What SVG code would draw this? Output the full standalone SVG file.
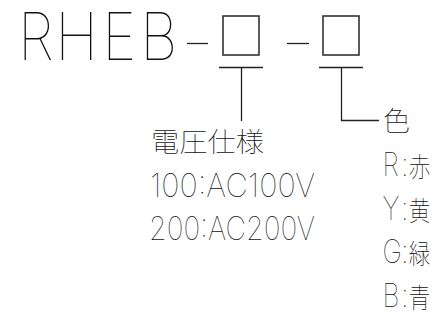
<svg xmlns="http://www.w3.org/2000/svg" width="443" height="321" viewBox="0 0 443 321">
<style>
.t{font-family:Inter,"Noto Sans CJK JP",sans-serif;font-weight:100;fill:#111}
.big{font-size:66px}
.m{font-size:33px}
.j{font-size:27px}
.ln{stroke:#222;stroke-width:1.3;fill:none}
.bx{stroke:#333;stroke-width:1.6;fill:none}
</style>
<rect width="443" height="321" fill="#fff"/>
<g id="model">
<text class="t big" transform="translate(0,60) scale(0.88,1)" x="20.5 62.9 116.3 159.5" y="0">RHEB</text>
</g>
<g id="box1">
<rect class="bx" x="223" y="16" width="36" height="39"/>
</g>
<g id="box2">
<rect class="bx" x="323" y="16" width="36" height="39"/>
</g>
<g id="connectors">
<line class="ln" x1="187" y1="43.5" x2="208" y2="43.5"/>
<line class="ln" x1="287" y1="43.5" x2="309" y2="43.5"/>
<line class="ln" x1="219" y1="67.5" x2="263" y2="67.5"/>
<line class="ln" x1="241.5" y1="67.5" x2="241.5" y2="121"/>
<line class="ln" x1="319" y1="67.5" x2="363" y2="67.5"/>
<polyline class="ln" points="341.5,67.5 341.5,120.5 379,120.5"/>
</g>
<g id="voltage">
<text class="t j" x="151" y="152" textLength="113" lengthAdjust="spacingAndGlyphs">電圧仕様</text>
<text class="t m" x="150" y="197" textLength="165" lengthAdjust="spacingAndGlyphs">100:AC100V</text>
<text class="t m" x="149" y="240" textLength="166" lengthAdjust="spacingAndGlyphs">200:AC200V</text>
</g>
<g id="color">
<text class="t j" x="383" y="131">色</text>
<text class="t m" transform="translate(384,176) scale(0.8,1)"><tspan x="-2" y="0">R</tspan><tspan x="21.5" y="0">:</tspan><tspan class="j" x="31" y="1">赤</tspan></text>
<text class="t m" transform="translate(384,220) scale(0.8,1)"><tspan x="-2" y="0">Y</tspan><tspan x="21.5" y="0">:</tspan><tspan class="j" x="31" y="1">黄</tspan></text>
<text class="t m" transform="translate(384,263) scale(0.8,1)"><tspan x="-2" y="0">G</tspan><tspan x="21.5" y="0">:</tspan><tspan class="j" x="31" y="1">緑</tspan></text>
<text class="t m" transform="translate(384,307) scale(0.8,1)"><tspan x="-2" y="0">B</tspan><tspan x="21.5" y="0">:</tspan><tspan class="j" x="31" y="1">青</tspan></text>
</g>
</svg>
